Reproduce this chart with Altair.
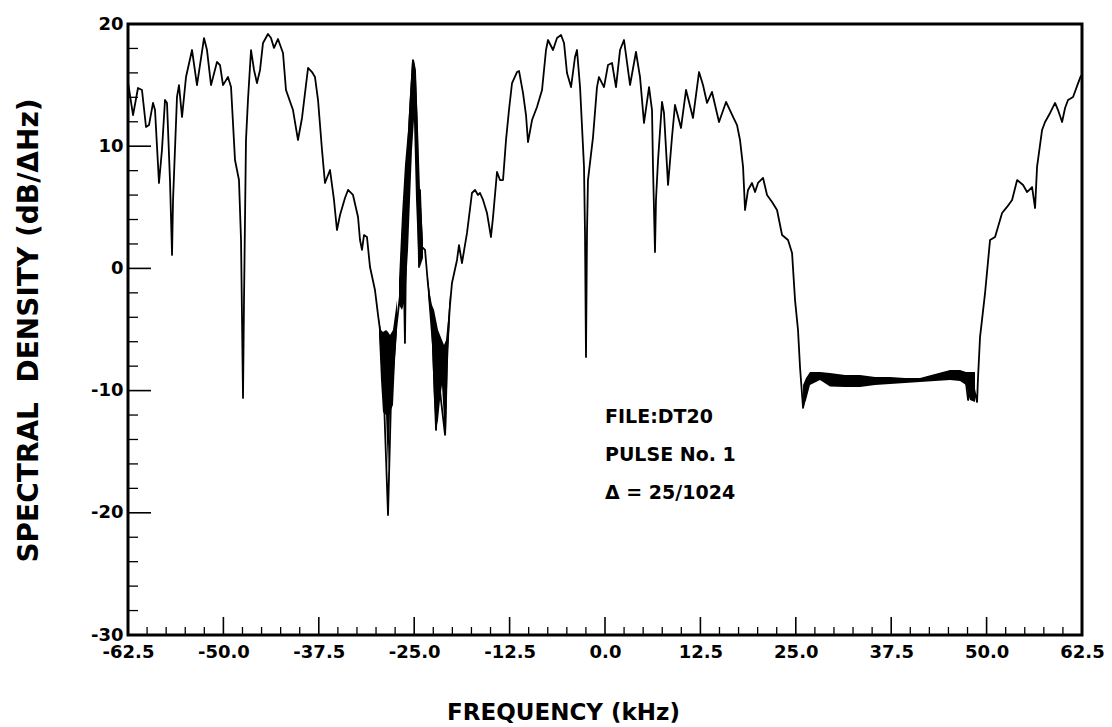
import altair as alt
import pandas as pd

# ---- main spectrum trace (frequency kHz, spectral density dB) ----
freq_khz = [
    -62.5, -61.84, -61.19, -60.67, -60.14, -59.75, -59.22, -58.96, -58.44, -58.05,
    -57.65, -57.39, -57.0, -56.73, -56.6, -56.08, -55.82, -55.42, -54.9, -54.11,
    -53.46, -52.54, -52.15, -51.62, -50.84, -50.44, -50.05, -49.4, -49.0, -48.48,
    -47.96, -47.69, -47.43, -47.3, -47.04, -46.78, -46.38, -45.99, -45.6, -45.2,
    -44.81, -44.16, -43.76, -43.37, -42.85, -42.19, -41.8, -40.88, -40.23, -39.7,
    -38.91, -38.39, -38.0, -37.6, -37.08, -36.69, -36.03, -35.51, -35.12, -34.72,
    -34.07, -33.67, -33.02, -32.36, -32.1, -31.84, -31.58, -31.19, -30.79, -30.14,
    -29.74, -29.48, -28.96, -28.43, -28.04, -27.38, -26.86, -26.47, -26.21, -25.94,
    -25.55, -25.16, -24.89, -24.63, -24.37, -24.24, -23.98, -23.58, -23.19, -22.67,
    -22.14, -21.88, -21.49, -20.96, -20.70, -20.31, -20.05, -19.39, -19.13, -18.74,
    -18.08, -17.43, -17.03, -16.64, -16.38, -15.98, -15.46, -14.94, -14.67, -14.15,
    -13.76, -13.36, -12.97, -12.58, -12.18, -11.53, -11.26, -10.74, -10.35, -10.09,
    -9.56, -8.91, -8.25, -7.73, -7.47, -6.81, -6.29, -5.76, -5.37, -4.98,
    -4.45, -3.93, -3.67, -3.27, -2.75, -2.62, -2.49, -2.36, -2.23, -1.57,
    -1.05, -0.79, -0.13, 0.39, 0.92, 1.44, 1.97, 2.49, 3.28, 4.06,
    4.59, 5.11, 5.77, 6.16, 6.29, 6.55, 6.68, 6.95, 7.47, 7.73,
    8.26, 8.78, 9.17, 9.96, 10.62, 11.53, 12.32, 12.84, 13.37, 14.02,
    14.94, 15.86, 16.78, 17.3, 17.69, 18.09, 18.35, 18.74, 19.26, 19.66,
    20.05, 20.71, 21.23, 21.89, 22.54, 23.2, 23.98, 24.51, 24.9, 25.29,
    25.55, 25.95, 26.47, 27.13, 29.49, 33.81, 38.27, 40.89, 43.51, 46.12,
    47.17, 47.57, 48.09, 48.75, 48.88, 49.14, 49.4, 49.8, 50.45, 51.11,
    52.03, 52.68, 53.34, 54.0, 54.78, 55.3, 55.96, 56.35, 56.61, 57.27,
    57.66, 58.32, 58.97, 59.36, 59.89, 60.28, 60.67, 61.33, 61.98, 62.38,
]
density_db = [
    15.25, 12.55, 14.76, 14.6, 11.57, 11.73, 13.54, 12.96, 6.99, 9.69,
    13.78, 13.54, 7.23, 1.1, 5.6, 14.03, 15.0, 12.39, 15.66, 17.87,
    15.0, 18.85, 17.87, 15.0, 16.89, 16.64, 15.0, 15.66, 14.84, 8.87,
    7.23, 2.32, -10.6, -2.59, 10.51, 13.78, 17.87, 16.24, 15.17, 16.24,
    18.45, 19.18, 18.85, 18.04, 18.77, 17.63, 14.6, 12.96, 10.51, 12.31,
    16.4, 16.07, 15.66, 13.78, 9.69, 6.99, 8.05, 5.6, 3.14, 4.37,
    5.76, 6.42, 6.01, 4.21, 2.32, 1.51, 2.73, 2.57, 0.11, -1.77,
    -3.81, -5.04, -10.77, -20.18, -10.77, -5.04, -2.18, 3.55, -6.1, 8.05,
    12.96, 17.05, 16.24, 11.33, 0.11, 6.42, 1.75, 1.51, -1.36, -4.22,
    -13.22, -8.31, -10.77, -13.63, -6.68, -2.99, -1.19, 0.69, 1.91, 0.44,
    2.9, 6.17, 6.42, 6.01, 6.17, 5.6, 4.53, 2.57, 4.21, 7.89,
    7.23, 7.23, 10.51, 12.96, 15.17, 16.07, 16.15, 14.35, 12.55, 10.34,
    12.14, 13.21, 14.6, 17.87, 18.69, 17.87, 18.85, 19.1, 18.45, 15.99,
    14.84, 17.3, 17.87, 14.84, 8.3, 2.9, -7.25, 2.9, 7.23, 10.75,
    14.84, 15.66, 14.84, 16.64, 16.81, 14.84, 17.87, 18.69, 15.01, 17.71,
    15.66, 11.9, 14.84, 12.96, 8.3, 1.34, 5.6, 8.87, 13.62, 12.72,
    6.83, 10.75, 13.37, 11.49, 14.6, 12.31, 16.07, 15.01, 13.54, 14.44,
    11.98, 13.62, 12.39, 11.73, 10.51, 8.3, 4.78, 6.42, 6.99, 6.25,
    6.99, 7.4, 6.01, 5.43, 4.78, 2.73, 2.32, 1.26, -2.59, -5.04,
    -8.07, -11.42, -9.71, -8.72, -9.13, -9.3, -9.13, -9.13, -8.84, -8.56,
    -8.72, -10.77, -9.13, -10.93, -8.89, -5.61, -4.22, -2.01, 2.32, 2.57,
    4.53, 5.03, 5.6, 7.23, 6.83, 6.25, 6.66, 4.94, 8.3, 11.33,
    11.98, 12.72, 13.54, 12.96, 11.98, 13.13, 13.78, 14.03, 15.14, 15.79,
]

# ---- noisy (densely over-plotted) parts of the trace: upper / lower envelope ----
band_group = (["A"] * 9) + (["B"] * 11) + (["C"] * 12) + (["D"] * 17)
band_freq = [
    -29.61, -29.35, -29.09, -28.69, -28.43, -28.17, -27.78, -27.51, -27.25,
    -26.99, -26.6, -26.21, -25.81, -25.55, -25.29, -25.03, -24.76, -24.5, -24.24, -23.85,
    -23.19, -22.93, -22.67, -22.4, -22.14, -21.88, -21.62, -21.36, -21.09, -20.83, -20.57, -20.31,
    25.95, 26.34, 26.86, 28.17, 29.48, 31.45, 33.41, 35.38, 37.34, 39.31, 41.27, 43.24,
    45.21, 46.52, 47.3, 47.83, 48.48,
]
band_hi = [
    -4.22, -5.04, -5.2, -5.04, -5.2, -5.45, -5.04, -3.81, -2.59,
    -0.95, 4.37, 8.46, 11.33, 14.19, 16.89, 17.05, 15.42, 11.33, 6.42, 2.32,
    -0.79, -2.18, -2.99, -3.4, -4.22, -5.04, -5.45, -5.86, -6.27, -5.86, -4.22, -2.18,
    -9.54, -8.97, -8.48, -8.48, -8.56, -8.72, -8.72, -8.89, -8.89, -8.97, -8.97, -8.64,
    -8.31, -8.31, -8.48, -8.48, -8.48,
]
band_lo = [
    -5.45, -9.13, -11.75, -11.99, -16.5, -11.75, -11.18, -7.5, -5.04,
    -2.99, -3.4, -2.59, 1.51, 5.6, 9.69, 12.14, 5.6, 1.51, 0.11, 0.85,
    -2.18, -4.22, -6.27, -10.77, -13.22, -12.4, -10.77, -9.54, -12.4, -13.63, -7.5, -3.81,
    -11.42, -10.77, -9.54, -9.13, -9.66, -9.71, -9.71, -9.54, -9.46, -9.38, -9.3, -9.21,
    -9.13, -9.21, -9.54, -10.77, -10.93,
]

# ---- axis ticks / labels ----
x_major = [-62.5, -50.0, -37.5, -25.0, -12.5, 0.0, 12.5, 25.0, 37.5, 50.0, 62.5]
x_minor = [-60.0, -57.5, -55.0, -52.5, -47.5, -45.0, -42.5, -40.0, -35.0, -32.5, -30.0, -27.5,
           -22.5, -20.0, -17.5, -15.0, -10.0, -7.5, -5.0, -2.5, 2.5, 5.0, 7.5, 10.0,
           15.0, 17.5, 20.0, 22.5, 27.5, 30.0, 32.5, 35.0, 40.0, 42.5, 45.0, 47.5,
           52.5, 55.0, 57.5, 60.0]
y_major = [-30, -20, -10, 0, 10, 20]
y_minor = [-28, -26, -24, -22, -18, -16, -14, -12, -8, -6, -4, -2,
           2, 4, 6, 8, 12, 14, 16, 18]
annotation_lines = ["FILE:DT20", "PULSE No. 1", "\u0394 = 25/1024"]

FONT = "DejaVu Sans"
W, H = 954, 611

trace = pd.DataFrame({"x": freq_khz, "y": density_db, "i": range(len(freq_khz))})
band = pd.DataFrame({"x": band_freq, "hi": band_hi, "lo": band_lo, "g": band_group})

xscale = alt.Scale(domain=[-62.5, 62.5], nice=False, zero=False)
yscale = alt.Scale(domain=[-30, 20], nice=False, zero=False)

x_axis = alt.Axis(
    values=x_major, ticks=False, tickSize=0, domain=False, grid=False,
    labelExpr="replace(format(datum.value, '.1f'), '\u2212', '-')",
    labelFont=FONT, labelFontWeight="bold", labelFontSize=18, labelColor="black",
    labelPadding=8, labelFlush=False, labelOverlap=False, labelBound=False,
    title="FREQUENCY (kHz)", titleFont=FONT, titleFontWeight="bold", titleFontSize=23,
    titleColor="black", titleX=435, titleY=84, titleAlign="center", titleBaseline="alphabetic",
    titleAnchor="start",
)
y_axis = alt.Axis(
    values=y_major, ticks=False, tickSize=0, domain=False, grid=False,
    labelExpr="replace(format(datum.value, 'd'), '\u2212', '-')",
    labelFont=FONT, labelFontWeight="bold", labelFontSize=18, labelColor="black",
    labelPadding=5, labelFlush=False, labelOverlap=False, labelBound=False,
    title="SPECTRAL\u00a0\u00a0DENSITY (dB/\u0394Hz)", titleFont=FONT, titleFontWeight="bold",
    titleFontSize=28, titleColor="black", titleAngle=270, titleX=-91, titleY=306,
    titleAlign="center", titleBaseline="alphabetic", titleAnchor="start",
)

line = alt.Chart(trace).mark_line(color="black", strokeWidth=1.8, strokeJoin="round").encode(
    x=alt.X("x:Q", scale=xscale, axis=x_axis),
    y=alt.Y("y:Q", scale=yscale, axis=y_axis),
    order="i:Q",
)

bands = alt.Chart(band).mark_area(color="black", opacity=1, interpolate="linear").encode(
    x=alt.X("x:Q", scale=xscale),
    y=alt.Y("hi:Q", scale=yscale, stack=None),
    y2="lo:Q",
    detail="g:N",
)

xt_major = alt.Chart(pd.DataFrame({"x": x_major})).mark_rule(color="black", strokeWidth=1.6).encode(
    x=alt.X("x:Q", scale=xscale), y=alt.value(H), y2=alt.value(H - 18))
xt_minor = alt.Chart(pd.DataFrame({"x": x_minor})).mark_rule(color="black", strokeWidth=1.3).encode(
    x=alt.X("x:Q", scale=xscale), y=alt.value(H), y2=alt.value(H - 8))
yt_major = alt.Chart(pd.DataFrame({"y": y_major})).mark_rule(color="black", strokeWidth=1.6).encode(
    y=alt.Y("y:Q", scale=yscale), x=alt.value(0), x2=alt.value(23))
yt_minor = alt.Chart(pd.DataFrame({"y": y_minor})).mark_rule(color="black", strokeWidth=1.3).encode(
    y=alt.Y("y:Q", scale=yscale), x=alt.value(0), x2=alt.value(10))

note = alt.Chart(pd.DataFrame({"t": [0]})).mark_text(
    align="left", baseline="alphabetic", font=FONT, fontWeight="bold", fontSize=19,
    lineHeight=38, color="black",
).encode(x=alt.value(477), y=alt.value(399), text=alt.value(annotation_lines))

chart = alt.layer(bands, line, xt_major, xt_minor, yt_major, yt_minor, note).properties(
    width=W, height=H,
    padding={"left": 128, "top": 24, "right": 30, "bottom": 92},
    autosize="none",
    background="white",
).configure_view(stroke="black", strokeWidth=3)

chart.save("out.html", embed_options={"renderer": "svg", "actions": False})
